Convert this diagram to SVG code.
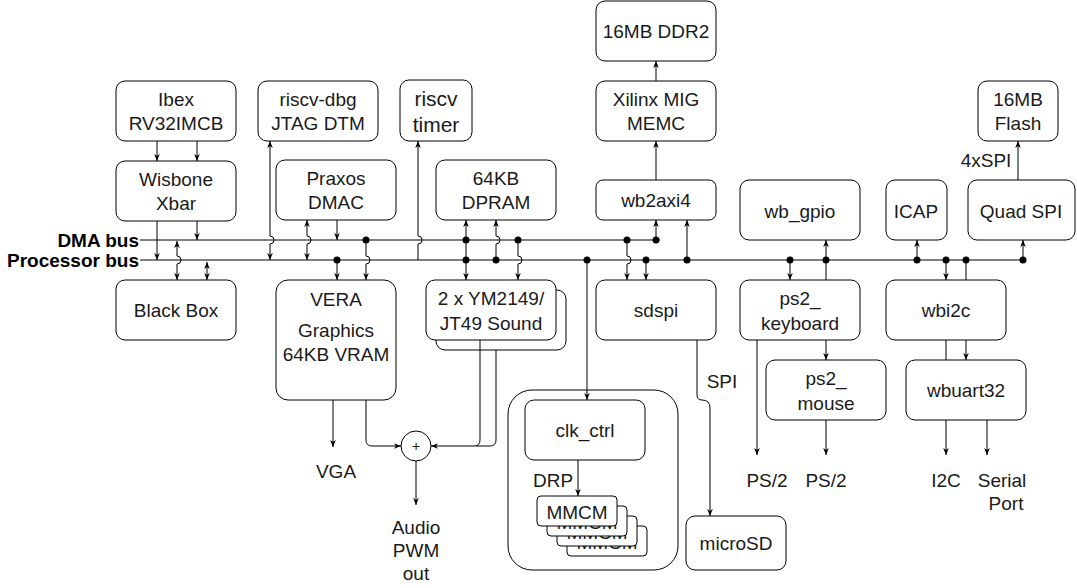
<svg xmlns="http://www.w3.org/2000/svg" width="1077" height="588" viewBox="0 0 1077 588">
<defs>
<marker id="a" viewBox="0 0 10 10" refX="10" refY="5" markerWidth="7" markerHeight="7" orient="auto-start-reverse" markerUnits="userSpaceOnUse"><path d="M0,1 L10,5 L0,9 L3,5 Z" fill="#000"/></marker>
<style>
rect{fill:#fff;stroke:#000;stroke-width:1}
text{font-family:"Liberation Sans",Arial,sans-serif;font-size:19px;fill:#1a1a1a;text-anchor:middle}
.c path,.c line{fill:none;stroke:#000;stroke-width:1}
.c circle.d{fill:#000;stroke:none}
.b{font-weight:bold;text-anchor:end;fill:#000;font-size:19px}
</style>
</defs>
<rect x="0" y="0" width="1077" height="588" style="fill:#fff;stroke:none"/>
<g id="clkgroup"><rect x="508" y="390" width="170" height="180" rx="24"/></g>
<g id="ibex"><rect x="116" y="81" width="120" height="60" rx="9"/><text x="176" y="106">Ibex</text><text x="176" y="130">RV32IMCB</text></g>
<g id="dbg"><rect x="258" y="81" width="120" height="60" rx="9"/><text x="318" y="106">riscv-dbg</text><text x="318" y="130">JTAG DTM</text></g>
<g id="timer"><rect x="400" y="80" width="72" height="61" rx="9"/><text x="436" y="106" style="font-size:21px">riscv</text><text x="436" y="132" style="font-size:21px">timer</text></g>
<g id="ddr"><rect x="596" y="1" width="120" height="60" rx="9"/><text x="656" y="38">16MB DDR2</text></g>
<g id="mig"><rect x="596" y="81" width="120" height="60" rx="9"/><text x="656" y="106">Xilinx MIG</text><text x="656" y="130">MEMC</text></g>
<g id="flash"><rect x="978" y="81" width="80" height="60" rx="9"/><text x="1018" y="106">16MB</text><text x="1018" y="130">Flash</text></g>
<g id="xbar"><rect x="116" y="161" width="120" height="60" rx="9"/><text x="176" y="186">Wisbone</text><text x="176" y="210">Xbar</text></g>
<g id="dmac"><rect x="276" y="160" width="120" height="60" rx="9"/><text x="336" y="185">Praxos</text><text x="336" y="209">DMAC</text></g>
<g id="dpram"><rect x="436" y="160" width="120" height="60" rx="9"/><text x="496" y="185">64KB</text><text x="496" y="209">DPRAM</text></g>
<g id="wb2axi"><rect x="596" y="180" width="120" height="40" rx="7"/><text x="656" y="207">wb2axi4</text></g>
<g id="gpio"><rect x="740" y="180" width="120" height="60" rx="9"/><text x="800" y="218">wb_gpio</text></g>
<g id="icap"><rect x="886" y="180" width="61" height="60" rx="9"/><text x="916" y="218">ICAP</text></g>
<g id="qspi"><rect x="968" y="180" width="107" height="60" rx="9"/><text x="1021" y="218">Quad SPI</text></g>
<g id="blackbox"><rect x="116" y="280" width="120" height="60" rx="9"/><text x="176" y="317">Black Box</text></g>
<g id="vera"><rect x="276" y="280" width="120" height="120" rx="12"/><text x="336" y="306">VERA</text><text x="336" y="337">Graphics</text><text x="336" y="361">64KB VRAM</text></g>
<g id="ym"><rect x="436" y="290" width="130" height="60" rx="9"/><rect x="426" y="280" width="130" height="60" rx="9"/><text x="491" y="305">2 x YM2149/</text><text x="491" y="330">JT49 Sound</text></g>
<g id="sdspi"><rect x="596" y="280" width="120" height="60" rx="9"/><text x="656" y="317">sdspi</text></g>
<g id="kbd"><rect x="740" y="280" width="120" height="60" rx="9"/><text x="800" y="305">ps2_</text><text x="800" y="330">keyboard</text></g>
<g id="mouse"><rect x="766" y="360" width="120" height="60" rx="9"/><text x="826" y="385">ps2_</text><text x="826" y="410">mouse</text></g>
<g id="i2c"><rect x="886" y="280" width="120" height="60" rx="9"/><text x="946" y="317">wbi2c</text></g>
<g id="uart"><rect x="906" y="360" width="120" height="60" rx="9"/><text x="966" y="397">wbuart32</text></g>
<g id="clk"><rect x="525" y="400" width="120" height="60" rx="9"/><text x="585" y="437">clk_ctrl</text></g>
<g id="mmcm"><rect x="567" y="526" width="80" height="30" rx="4"/><text x="607" y="549">MMCM</text><rect x="557" y="516" width="80" height="30" rx="4"/><text x="597" y="539">MMCM</text><rect x="547" y="506" width="80" height="30" rx="4"/><text x="587" y="529">MMCM</text><rect x="537" y="496" width="80" height="30" rx="4"/><text x="577" y="519">MMCM</text></g>
<g id="microsd"><rect x="686" y="516" width="100" height="54" rx="9"/><text x="736" y="550">microSD</text></g>
<g id="sum"><circle cx="416" cy="446" r="15" fill="#fff" stroke="#000"/><text x="416" y="451" style="font-size:14px">+</text></g>
<g id="labels">
<text class="b" x="139" y="247">DMA bus</text>
<text class="b" x="139" y="267">Processor bus</text>
<text x="986" y="167">4xSPI</text>
<text x="336" y="478">VGA</text>
<text x="416" y="534">Audio</text><text x="416" y="557">PWM</text><text x="416" y="580">out</text>
<text x="553" y="487">DRP</text>
<text x="722" y="388">SPI</text>
<text x="767" y="487">PS/2</text>
<text x="826" y="487">PS/2</text>
<text x="946" y="487">I2C</text>
<text x="1002" y="487">Serial</text><text x="1006" y="510">Port</text>
</g>
<g class="c" id="connectors">
<path d="M140,240 H660"/>
<path d="M140,260 H1023"/>
<path d="M157,141 V161" marker-end="url(#a)"/>
<path d="M197,141 V161" marker-end="url(#a)"/>
<path d="M157,221 V260" marker-end="url(#a)"/>
<path d="M197,221 V240" marker-end="url(#a)"/>
<path d="M177,241 V256 a4,4 0 0 1 0,8 V280" marker-start="url(#a)" marker-end="url(#a)"/>
<path d="M207,262 V280" marker-start="url(#a)" marker-end="url(#a)"/>
<path d="M270,141 V236 a4,4 0 0 1 0,8 V260" marker-start="url(#a)" marker-end="url(#a)"/>
<path d="M307,220 V236 a4,4 0 0 1 0,8 V260" marker-start="url(#a)" marker-end="url(#a)"/>
<path d="M337,220 V240" marker-end="url(#a)"/>
<path d="M337,260 V280" marker-end="url(#a)"/>
<path d="M366,240 V256 a4,4 0 0 1 0,8 V280" marker-end="url(#a)"/>
<path d="M418,260 V244 a4,4 0 0 0 0,-8 V141" marker-end="url(#a)"/>
<path d="M466,240 V220" marker-end="url(#a)"/>
<path d="M466,260 V280" marker-end="url(#a)"/>
<path d="M466,240 V260"/>
<path d="M496,260 V244 a4,4 0 0 0 0,-8 V220" marker-end="url(#a)"/>
<path d="M518,240 V256 a4,4 0 0 1 0,8 V280" marker-end="url(#a)"/>
<path d="M587,260 V400" marker-end="url(#a)"/>
<path d="M627,240 V256 a4,4 0 0 1 0,8 V280" marker-end="url(#a)"/>
<path d="M646,260 V280" marker-end="url(#a)"/>
<path d="M656,240 V220" marker-end="url(#a)"/>
<path d="M687,260 V220" marker-end="url(#a)"/>
<path d="M656,180 V141" marker-end="url(#a)"/>
<path d="M656,81 V61" marker-end="url(#a)"/>
<path d="M790,260 V280" marker-end="url(#a)"/>
<path d="M826,260 V240" marker-end="url(#a)"/>
<path d="M826,260 V280"/>
<path d="M826,340 V360" marker-end="url(#a)"/>
<path d="M917,260 V240" marker-end="url(#a)"/>
<path d="M946,260 V280" marker-end="url(#a)"/>
<path d="M966,260 V280"/>
<path d="M946,340 V360"/>
<path d="M966,340 V360" marker-end="url(#a)"/>
<path d="M1023,260 V240" marker-end="url(#a)"/>
<path d="M1018,180 V141" marker-end="url(#a)"/>
<path d="M697,340 V395 Q697,400 702,400 Q710,400 710,408 V516" marker-end="url(#a)"/>
<path d="M757,340 V455" marker-end="url(#a)"/>
<path d="M826,420 V455" marker-end="url(#a)"/>
<path d="M946,420 V455" marker-end="url(#a)"/>
<path d="M987,420 V455" marker-end="url(#a)"/>
<path d="M333,400 V447" marker-end="url(#a)"/>
<path d="M366,400 V440 Q366,446 372,446 H401" marker-end="url(#a)"/>
<path d="M480,340 V440 Q480,446 474,446 H431" marker-end="url(#a)"/>
<path d="M496,350 V440 Q496,446 490,446 H476"/>
<path d="M416,461 V505" marker-end="url(#a)"/>
<path d="M578,460 V496" marker-end="url(#a)"/>
<circle class="d" cx="366" cy="240" r="3.5"/><circle class="d" cx="337" cy="260" r="3.5"/>
<circle class="d" cx="466" cy="240" r="3.5"/><circle class="d" cx="466" cy="260" r="3.5"/>
<circle class="d" cx="496" cy="260" r="3.5"/><circle class="d" cx="518" cy="240" r="3.5"/>
<circle class="d" cx="587" cy="260" r="3.5"/><circle class="d" cx="627" cy="240" r="3.5"/>
<circle class="d" cx="656" cy="240" r="3.5"/><circle class="d" cx="646" cy="260" r="3.5"/>
<circle class="d" cx="687" cy="260" r="3.5"/><circle class="d" cx="790" cy="260" r="3.5"/>
<circle class="d" cx="826" cy="260" r="3.5"/><circle class="d" cx="917" cy="260" r="3.5"/>
<circle class="d" cx="946" cy="260" r="3.5"/><circle class="d" cx="966" cy="260" r="3.5"/>
<circle class="d" cx="1023" cy="260" r="3.5"/>
</g>
</svg>
